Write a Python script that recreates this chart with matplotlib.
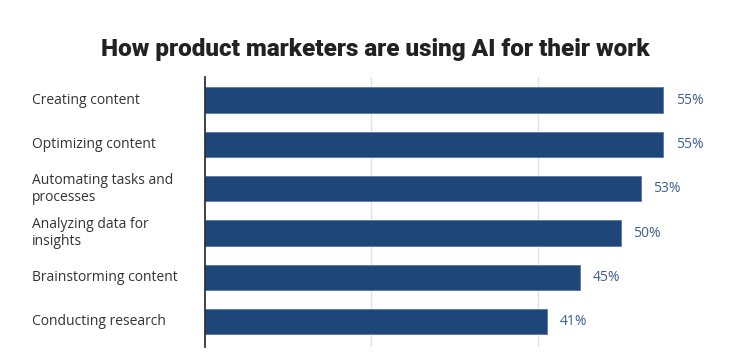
import matplotlib
matplotlib.use("Agg")
import matplotlib.pyplot as plt

categories = ["Creating content", "Optimizing content", "Automating tasks and\nprocesses",
              "Analyzing data for\ninsights", "Brainstorming content", "Conducting research"]
values = [55, 55, 52.3, 49.9, 45, 41.1]
value_labels = ["55%", "55%", "53%", "50%", "45%", "41%"]
grid_ticks = [20, 40]

fig = plt.figure(figsize=(7.5, 3.63), dpi=100)
ax = fig.add_axes([0.2727, 0.044, 0.6447, 0.744])

ypos = list(range(len(categories)))
ax.barh(ypos, values, height=0.57, color="#1f4678", edgecolor="#5a78a3", linewidth=0.6, zorder=3)
ax.set_xlim(0, 58)
ax.set_ylim(5.57, -0.52)
ax.set_xticks(grid_ticks)
ax.xaxis.grid(True, color="#e2e2e2", linewidth=1, zorder=0)
ax.tick_params(axis="x", length=0, labelbottom=False)
ax.tick_params(axis="y", length=0, labelleft=False)
for s in ["top", "right", "bottom"]:
    ax.spines[s].set_visible(False)
ax.spines["left"].set_color("#222222")
ax.spines["left"].set_linewidth(1.2)
ax.spines["left"].set_zorder(4)

for y, lab in zip(ypos, categories):
    ax.annotate(lab, xy=(0, y), xycoords=("axes fraction", "data"), xytext=(-172.5, 0),
                textcoords="offset pixels", ha="left", va="center", fontsize=10,
                color="#333333", family="Open Sans", linespacing=1.15)

for y, v, lab in zip(ypos, values, value_labels):
    ax.annotate(lab, xy=(v, y), xytext=(13, 0), textcoords="offset pixels",
                ha="left", va="center", fontsize=10, color="#3d5f94", family="Open Sans",
                annotation_clip=False)

fig.text(0.5, 0.865, "How product marketers are using AI for their work", ha="center", va="center",
         fontsize=17.5, fontweight="heavy", color="#222222", family="Roboto")

fig.savefig("out.png", dpi=100)
